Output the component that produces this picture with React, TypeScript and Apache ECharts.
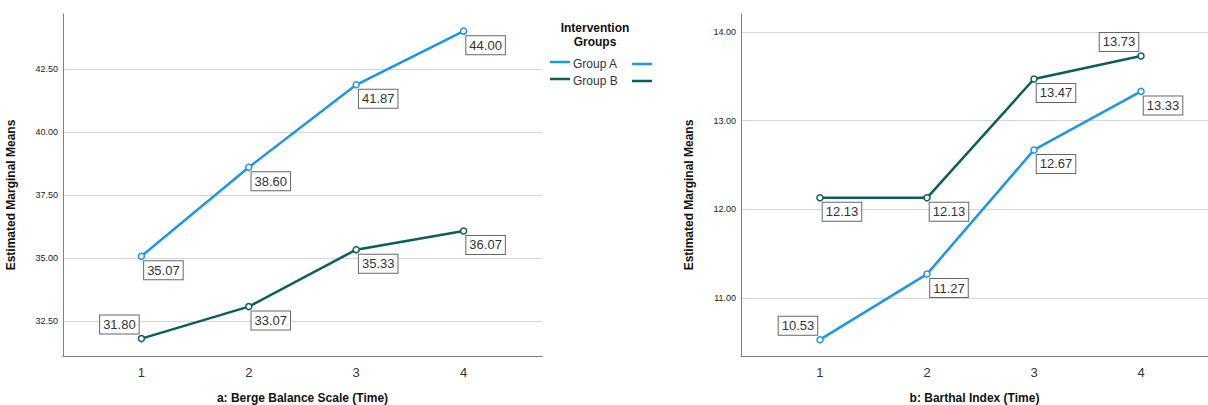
import React, { useEffect, useRef } from "react";
import * as echarts from "echarts";

const times = [1, 2, 3, 4];
const timeLabels = ["1", "2", "3", "4"];

const bergeGroupA = [35.07, 38.6, 41.87, 44.0];
const bergeGroupB = [31.8, 33.07, 35.33, 36.07];
const bergeTicks = [32.5, 35.0, 37.5, 40.0, 42.5];

const barthelGroupA = [10.53, 11.27, 12.67, 13.33];
const barthelGroupB = [12.13, 12.13, 13.47, 13.73];
const barthelTicks = [11, 12, 13, 14];

// label placement: "br" below-right, "tl" above-left
const bergeAPlace = ["br", "br", "br", "br"];
const bergeBPlace = ["tl", "br", "br", "br"];
const barthelAPlace = ["tl", "br", "br", "br"];
const barthelBPlace = ["br", "br", "br", "tl"];

const groupNames = ["Group A", "Group B"];
const colorA = "#1E96E8";
const colorB = "#0B5F5A";

const FONT = "Liberation Sans, Arial, sans-serif";

function makeData(vals: number[], place: string[]) {
  return vals.map((v, i) => ({
    value: [times[i], v],
    label: { offset: place[i] === "br" ? [22, 14] : [-22, -14] },
  }));
}

function series(name: string, vals: number[], place: string[], color: string, idx: number) {
  return {
    type: "line",
    name,
    xAxisIndex: idx,
    yAxisIndex: idx,
    data: makeData(vals, place),
    symbol: "circle",
    symbolSize: 6,
    lineStyle: { color, width: 2.5 },
    itemStyle: { color: "#ffffff", borderColor: color, borderWidth: 1.5 },
    label: {
      show: true,
      position: "inside",
      formatter: (p: any) => p.value[1].toFixed(2),
      fontFamily: FONT,
      fontSize: 13,
      color: "#333",
      backgroundColor: "#fff",
      borderColor: "#666",
      borderWidth: 1,
      padding: [3, 3, 2, 3],
    },
    emphasis: { disabled: true },
    z: 3,
  };
}

function xAxis(idx: number, min: number, max: number, name: string) {
  return {
    type: "value",
    gridIndex: idx,
    min,
    max,
    name,
    nameLocation: "middle",
    nameGap: 36,
    nameTextStyle: { fontFamily: FONT, fontSize: 12, fontWeight: "bold", color: "#111" },
    axisLine: { show: true, lineStyle: { color: "#808080", width: 1 } },
    axisTick: { show: false, customValues: times },
    splitLine: { show: false },
    axisLabel: {
      customValues: times,
      formatter: (v: number) => timeLabels[times.indexOf(v)] ?? "",
      fontFamily: FONT,
      fontSize: 13,
      color: "#333",
      margin: 10,
    },
  };
}

function yAxis(idx: number, min: number, max: number, ticks: number[]) {
  return {
    type: "value",
    gridIndex: idx,
    min,
    max,
    name: "Estimated Marginal Means",
    nameLocation: "middle",
    nameGap: 46,
    nameTextStyle: {
      fontFamily: FONT,
      fontSize: 12,
      fontWeight: "bold",
      color: "#111",
      padding: [0, 20, 0, 0],
    },
    axisLine: { show: true, lineStyle: { color: "#808080", width: 1 } },
    axisTick: { show: false, customValues: ticks },
    splitLine: { show: true, lineStyle: { color: "#d4d4d4", width: 1 } },
    axisLabel: {
      customValues: ticks,
      formatter: (v: number) => v.toFixed(2),
      fontFamily: FONT,
      fontSize: 9,
      color: "#222",
      margin: 5,
    },
  };
}

export default function App() {
  const ref = useRef<HTMLDivElement>(null);
  useEffect(() => {
    document.body.style.margin = "0";
    const chart = echarts.init(ref.current!, null, { renderer: "svg" });
    const legendText = (text: string, x: number, y: number, bold: boolean, align: string) => ({
      type: "text",
      x,
      y,
      style: {
        text,
        fontFamily: FONT,
        fontSize: 12,
        fontWeight: bold ? "bold" : "normal",
        fill: bold ? "#111" : "#333",
        align,
        verticalAlign: "middle",
      },
    });
    const legendLine = (x1: number, x2: number, y: number, color: string) => ({
      type: "line",
      shape: { x1, y1: y, x2, y2: y },
      style: { stroke: color, lineWidth: 2.5 },
    });
    chart.setOption({
      animation: false,
      backgroundColor: "#fff",
      grid: [
        { left: 63, top: 14, width: 479, height: 342, containLabel: false, outerBoundsMode: "none" },
        { left: 741, top: 14, right: 0, height: 342, containLabel: false, outerBoundsMode: "none" },
      ],
      xAxis: [
        xAxis(0, 0.27, 4.73, "a: Berge Balance Scale (Time)"),
        xAxis(1, 0.262, 4.626, "b: Barthal Index (Time)"),
      ],
      yAxis: [yAxis(0, 31.11, 44.68, bergeTicks), yAxis(1, 10.346, 14.203, barthelTicks)],
      series: [
        series(groupNames[0], bergeGroupA, bergeAPlace, colorA, 0),
        series(groupNames[1], bergeGroupB, bergeBPlace, colorB, 0),
        series(groupNames[0], barthelGroupA, barthelAPlace, colorA, 1),
        series(groupNames[1], barthelGroupB, barthelBPlace, colorB, 1),
      ],
      graphic: [
        legendText("Intervention", 595, 28, true, "center"),
        legendText("Groups", 595, 42, true, "center"),
        legendLine(550, 570, 62, colorA),
        legendText(groupNames[0], 573, 64, false, "left"),
        legendLine(632, 652, 64, colorA),
        legendLine(550, 570, 79, colorB),
        legendText(groupNames[1], 573, 81, false, "left"),
        legendLine(632, 652, 81, colorB),
      ],
    });
    return () => chart.dispose();
  }, []);
  return <div ref={ref} style={{ width: 1208, height: 405 }} />;
}
